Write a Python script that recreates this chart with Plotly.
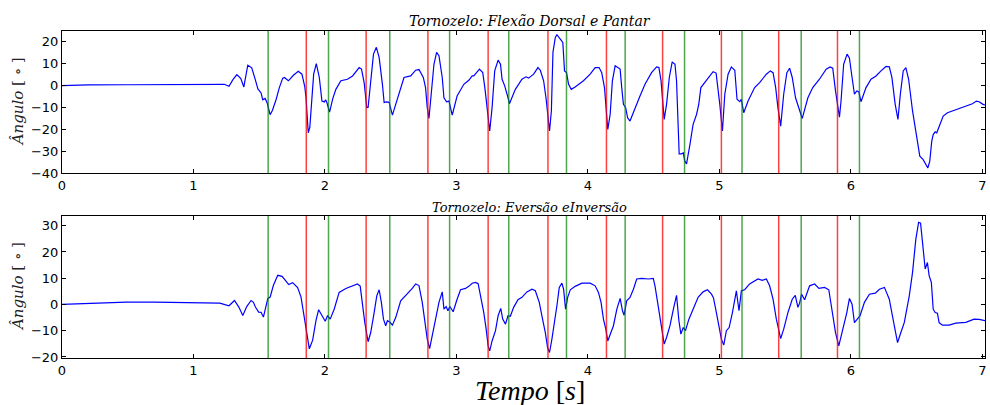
import plotly.graph_objects as go
from plotly.subplots import make_subplots

# ---------------- data ----------------
t_top = [0, 0.2, 0.5, 0.8, 1.0, 1.1, 1.2, 1.235, 1.27, 1.30, 1.33, 1.36, 1.383, 1.40, 1.413, 1.443, 1.46, 1.47,
         1.49, 1.514, 1.527, 1.545, 1.56, 1.583, 1.60, 1.628, 1.653, 1.678, 1.691, 1.722, 1.76, 1.797, 1.825, 1.846,
         1.856, 1.873, 1.885, 1.899, 1.914, 1.934, 1.957, 1.977, 1.995, 2.005, 2.015, 2.035, 2.06, 2.083, 2.121,
         2.171, 2.21, 2.26, 2.278, 2.298, 2.318, 2.328, 2.348, 2.369, 2.391, 2.412, 2.437, 2.45, 2.47, 2.488, 2.513,
         2.551, 2.601, 2.652, 2.69, 2.715, 2.748, 2.765, 2.778, 2.791, 2.809, 2.829, 2.849, 2.867, 2.892, 2.905,
         2.925, 2.943, 2.968, 3.005, 3.056, 3.094, 3.12, 3.132, 3.175, 3.2, 3.216, 3.233, 3.253, 3.271, 3.291,
         3.317, 3.335, 3.347, 3.367, 3.385, 3.403, 3.448, 3.498, 3.529, 3.549, 3.587, 3.62, 3.638, 3.663, 3.681,
         3.696, 3.708, 3.722, 3.734, 3.752, 3.764, 3.79, 3.809, 3.822, 3.837, 3.853, 3.873, 3.903, 3.966, 4.017,
         4.055, 4.085, 4.105, 4.126, 4.138, 4.151, 4.169, 4.186, 4.207, 4.224, 4.245, 4.257, 4.27, 4.287, 4.302,
         4.32, 4.358, 4.396, 4.434, 4.484, 4.522, 4.54, 4.556, 4.568, 4.58, 4.598, 4.619, 4.641, 4.662, 4.674,
         4.687, 4.694, 4.712, 4.725, 4.737, 4.75, 4.776, 4.80, 4.826, 4.843, 4.859, 4.889, 4.927, 4.952, 4.975,
         4.983, 5.003, 5.023, 5.041, 5.066, 5.091, 5.117, 5.134, 5.155, 5.167, 5.185, 5.218, 5.268, 5.306, 5.357,
         5.387, 5.408, 5.428, 5.445, 5.466, 5.489, 5.513, 5.534, 5.554, 5.579, 5.604, 5.63, 5.673, 5.71, 5.761,
         5.812, 5.842, 5.862, 5.883, 5.90, 5.913, 5.925, 5.945, 5.971, 5.989, 6.009, 6.027, 6.045, 6.06, 6.077,
         6.115, 6.153, 6.191, 6.229, 6.267, 6.292, 6.312, 6.337, 6.358, 6.376, 6.398, 6.418, 6.439, 6.469, 6.5,
         6.524, 6.55, 6.57, 6.585, 6.60, 6.615, 6.626, 6.641, 6.653, 6.671, 6.702, 6.735, 6.772, 6.823, 6.886,
         6.924, 6.955, 6.975, 7.005, 7.02]
ang_top = [-0.2, 0.1, 0.2, 0.3, 0.4, 0.5, 0.6, 0.4, -0.5, 2.5, 4.8, 3.0, -0.8, 5.0, 9.1, 7.9, 5.0, 2.5,
           -1.7, -3.5, -6.6, -6.0, -8.0, -13.4, -11.5, -6.6, -1.1, 3.1, 3.5, 2.0, 4.5, 6.3, 5.0, -0.5,
           -5.7, -21.6, -19.0, -8.7, 5.0, 9.8, 3.5, -7.2, -7.6, -6.6, -8.0, -12.2, -6.0, -1.9, 2.0,
           2.7, 4.2, 8.0, 7.3, 1.2, -10.2, -10.1, 3.5, 14.1, 17.2, 12.6, 0.4, -7.9, -7.6, -7.8, -13.6,
           -5.7, 3.5, 4.2, 6.8, 7.1, 3.5, -1.1, -10.2, -15.1, -4.1, 9.5, 14.9, 13.4, 3.5, -5.7,
           -7.5, -7.2, -13.6, -4.9, 0.4, 2.2, 4.2, 4.2, 7.3, 5.7, -1.1, -10.2, -20.8, -10.2, 6.5,
           11.4, 9.5, 2.7, -0.3, -4.1, -8.4, -1.9, 2.7, 3.8, 3.2, 5.0, 8.0, 6.8, 2.0, -5.7,
           -16.3, -20.8, -11.7, 14.9, 21.7, 22.9, 20.9, 19.4, 6.5, 5.7, 0.4, -1.9, -0.8, 2.0, 5.0,
           8.0, 8.0, 5.7, -1.1, -10.2, -20.1, -13.3, 2.0, 8.8, 8.0, 7.3, -1.1, -8.7, -10.2, -14.8,
           -16.3, -10.2, -4.9, 0.4, 5.7, 8.3, 8.0, 2.0, -7.2, -15.5, -8.7, 3.5, 10.6, 9.5, 2.0,
           -16.3, -31.2, -31.2, -30.7, -34.5, -35.7, -26.9, -17.8, -13.3, -8.7, -1.1, 1.2, 4.2, 6.1, 5.5,
           2.0, -8.7, -20.8, -4.1, 5.0, 8.3, 6.8, -6.4, -7.5, -6.4, -12.5, -7.2, -1.1, 1.2, 5.0,
           6.5, 5.7, -1.1, -10.2, -18.6, -4.1, 5.7, 7.7, 3.5, -5.7, -9.9, -15.1, -5.7, -1.1, 2.7,
           7.3, 8.3, 7.7, -2.6, -10.2, -14.5, -7.2, 9.5, 14.1, 12.3, 3.5, -4.1, -2.6, -3.0, -7.5,
           -1.1, 2.7, 4.2, 6.5, 8.5, 8.3, 3.5, -8.7, -15.5, -4.1, 6.5, 8.0, 2.7, -11.7, -22.4,
           -32.2, -33.8, -36.1, -37.6, -34.5, -25.4, -22.4, -21.2, -21.6, -18.6, -14.0, -12.5, -11.7, -10.7, -9.4,
           -8.4, -7.2, -7.5, -8.7, -9.0]

t_bot = [0, 0.2, 0.45, 0.49, 0.7, 0.9, 1.1, 1.2, 1.27, 1.312, 1.345, 1.375, 1.405, 1.438, 1.456, 1.471, 1.496,
         1.514, 1.532, 1.547, 1.565, 1.583, 1.608, 1.641, 1.674, 1.699, 1.724, 1.754, 1.792, 1.818, 1.843, 1.861,
         1.881, 1.906, 1.932, 1.952, 1.969, 1.987, 2.002, 2.02, 2.04, 2.07, 2.108, 2.159, 2.197, 2.247, 2.268,
         2.285, 2.303, 2.328, 2.348, 2.374, 2.394, 2.412, 2.429, 2.445, 2.462, 2.475, 2.495, 2.513, 2.538, 2.576,
         2.614, 2.664, 2.69, 2.715, 2.74, 2.76, 2.778, 2.796, 2.816, 2.842, 2.867, 2.892, 2.905, 2.922, 2.935,
         2.95, 2.975, 3.005, 3.031, 3.069, 3.094, 3.12, 3.145, 3.165, 3.183, 3.208, 3.226, 3.241, 3.253, 3.271,
         3.297, 3.317, 3.337, 3.352, 3.373, 3.392, 3.41, 3.435, 3.468, 3.498, 3.536, 3.574, 3.6, 3.63, 3.655,
         3.676, 3.693, 3.708, 3.726, 3.746, 3.764, 3.782, 3.802, 3.815, 3.83, 3.846, 3.866, 3.903, 3.954, 4.017,
         4.055, 4.08, 4.1, 4.118, 4.136, 4.151, 4.169, 4.194, 4.22, 4.245, 4.263, 4.275, 4.295, 4.32, 4.346,
         4.371, 4.409, 4.46, 4.497, 4.51, 4.53, 4.548, 4.565, 4.58, 4.598, 4.624, 4.65, 4.674, 4.692, 4.707,
         4.725, 4.742, 4.768, 4.80, 4.838, 4.876, 4.909, 4.94, 4.955, 4.977, 4.99, 5.015, 5.033, 5.053, 5.074,
         5.099, 5.129, 5.149, 5.167, 5.192, 5.23, 5.256, 5.293, 5.326, 5.357, 5.382, 5.408, 5.433, 5.451, 5.466,
         5.489, 5.521, 5.554, 5.577, 5.597, 5.61, 5.625, 5.648, 5.686, 5.724, 5.757, 5.80, 5.832, 5.857, 5.883,
         5.908, 5.939, 5.969, 5.989, 6.009, 6.027, 6.052, 6.07, 6.103, 6.141, 6.186, 6.217, 6.255, 6.292, 6.33,
         6.355, 6.38, 6.406, 6.444, 6.469, 6.494, 6.515, 6.53, 6.55, 6.565, 6.582, 6.595, 6.612, 6.626, 6.641,
         6.658, 6.671, 6.696, 6.747, 6.798, 6.874, 6.937, 6.975, 7.02]
ang_bot = [0.0, 0.3, 0.6, 0.9, 0.9, 0.8, 0.7, 0.5, -0.5, 1.5, -1.0, -4.2, -0.8, 1.5, 0.8, -1.0, -2.9,
           -3.0, -4.8, -1.7, 2.2, 2.8, 7.3, 11.1, 10.7, 9.2, 7.6, 8.3, 6.4, 2.8, -4.8, -11.2,
           -16.9, -13.7, -6.1, -2.0, -3.6, -4.8, -6.4, -4.2, -5.6, -1.8, 4.6, 6.1, 6.9, 7.8, 7.0,
           -0.5, -6.9, -14.2, -10.7, -3.1, 3.3, 5.6, 0.8, -5.6, -8.1, -6.2, -6.8, -7.9, -5.0, 1.4,
           3.3, 6.1, 7.8, 7.2, 0.8, -6.9, -13.2, -16.8, -12.0, -5.6, 0.8, 4.8, -1.8, -0.8, -2.4,
           -0.8, -2.8, 2.0, 5.6, 6.1, 6.9, 8.1, 8.4, 7.9, 3.3, -3.1, -9.4, -15.8, -17.7, -13.9,
           -10.0, -4.3, -1.5, -5.6, -7.5, -4.3, -4.5, -1.1, 1.8, 2.7, 4.8, 5.8, 5.2, 0.8, -5.6,
           -10.7, -16.4, -18.3, -13.2, -6.9, -0.5, 6.5, 8.1, 5.8, -1.8, 2.7, 5.6, 6.9, 8.1, 8.1,
           7.1, 4.6, 0.8, -5.6, -9.4, -13.9, -11.3, -8.1, -1.8, 2.3, -2.4, -4.1, 1.4, 2.7, 5.8,
           9.7, 9.9, 9.7, 9.9, 7.1, 0.8, -5.6, -10.7, -15.1, -12.6, -8.1, -1.8, 3.5, -6.2, -11.3,
           -8.8, -10.0, -5.6, -1.8, 2.7, 4.8, 5.6, 3.9, 2.5, -3.1, -6.9, -13.2, -15.5, -10.0, -8.8,
           -3.1, 5.2, -2.4, 5.2, 5.6, 7.8, 8.7, 9.7, 9.2, 9.7, 7.1, 2.0, -5.6, -9.4, -13.0,
           -9.4, -3.1, 2.0, 3.5, -1.1, 0.5, 3.9, 1.8, 7.1, 7.8, 6.1, 6.5, 5.6, -1.8, -10.7,
           -15.8, -9.4, -3.1, 2.3, 0.1, -6.9, -5.6, -4.3, 0.8, 3.9, 4.3, 5.8, 6.5, 2.0, -8.1,
           -14.5, -10.7, -6.9, 3.3, 12.2, 24.9, 31.3, 31.0, 21.1, 13.5, 16.0, 11.0, 8.4, -1.8, -3.1,
           -3.3, -6.9, -7.9, -7.9, -7.1, -6.8, -5.6, -5.7, -6.2]

green_marks = [1.568, 2.027, 2.493, 2.948, 3.398, 3.837, 4.283, 4.735, 5.172, 5.622, 6.065]
red_marks = [1.858, 2.313, 2.783, 3.241, 3.696, 4.141, 4.568, 5.015, 5.451, 5.898]

x_ticks = [0, 1, 2, 3, 4, 5, 6, 7]
y_ticks_top = [-40, -30, -20, -10, 0, 10, 20]
y_ticks_bot = [-20, -10, 0, 10, 20, 30]

title_top = "Tornozelo: Flexão Dorsal e Pantar"
title_bot = "Tornozelo: Eversão eInversão"
y_label = "<i>Ângulo</i> [ ∘ ]"
x_label = "<i>Tempo</i> [<i>s</i>]"

# ---------------- figure ----------------
W, H = 990, 405
ML, MR, MT, MB = 62, 3, 31, 47
PH = H - MT - MB

fig = make_subplots(rows=2, cols=1)
fig.add_trace(go.Scatter(x=t_top, y=ang_top, mode="lines",
                         line=dict(color="#0000ff", width=1.2), showlegend=False), row=1, col=1)
fig.add_trace(go.Scatter(x=t_bot, y=ang_bot, mode="lines",
                         line=dict(color="#0000ff", width=1.2), showlegend=False), row=2, col=1)

for r in (1, 2):
    for g in green_marks:
        fig.add_vline(x=g, line=dict(color="rgba(0,128,0,0.7)", width=1.5), row=r, col=1)
    for rd in red_marks:
        fig.add_vline(x=rd, line=dict(color="rgba(255,0,0,0.75)", width=1.5), row=r, col=1)

tickfont = dict(family="DejaVu Sans", size=13, color="#000")
axis_common = dict(showline=True, linecolor="#000", linewidth=1, mirror="allticks",
                   ticks="inside", ticklen=4, tickcolor="#000", showgrid=False, zeroline=False,
                   tickfont=tickfont)

fig.update_xaxes(range=[0, 7.02], tickvals=x_ticks, **axis_common)
fig.update_yaxes(**axis_common)
fig.update_yaxes(range=[-40, 24.6], tickvals=y_ticks_top, row=1, col=1)
fig.update_yaxes(range=[-20.4, 33.7], tickvals=y_ticks_bot, row=2, col=1)

top_lo = (H - MB - 173.3) / PH
bot_hi = (H - MB - 216) / PH
fig.update_layout(
    width=W, height=H,
    margin=dict(l=ML, r=MR, t=MT, b=MB),
    paper_bgcolor="white", plot_bgcolor="white",
    xaxis=dict(domain=[0, 1]), xaxis2=dict(domain=[0, 1]),
    yaxis=dict(domain=[top_lo, 1]), yaxis2=dict(domain=[0, bot_hi]),
)

serif = "DejaVu Serif"
fig.add_annotation(text="<i>" + title_top + "</i>", xref="x domain", yref="y domain",
                   x=0.5, y=1, xanchor="center", yanchor="bottom", yshift=0, xshift=6, showarrow=False,
                   font=dict(family=serif, size=14, color="#000"))
fig.add_annotation(text="<i>" + title_bot + "</i>", xref="x2 domain", yref="y2 domain",
                   x=0.5, y=1, xanchor="center", yanchor="bottom", yshift=-1, xshift=6, showarrow=False,
                   font=dict(family=serif, size=13, color="#000"))
for yr in ("y domain", "y2 domain"):
    fig.add_annotation(text=y_label, xref="paper", yref=yr, x=(18 - ML) / (W - ML - MR), y=0.5,
                       xanchor="center", yanchor="middle", textangle=-90, showarrow=False,
                       font=dict(family=serif, size=15, color="#222"))
fig.add_annotation(text=x_label, xref="paper", yref="paper", x=(531 - ML) / (W - ML - MR),
                   y=-(390 - (H - MB)) / PH, xanchor="center", yanchor="middle", showarrow=False,
                   font=dict(family="Liberation Serif", size=28, color="#000"))

fig.write_html("out.html")
